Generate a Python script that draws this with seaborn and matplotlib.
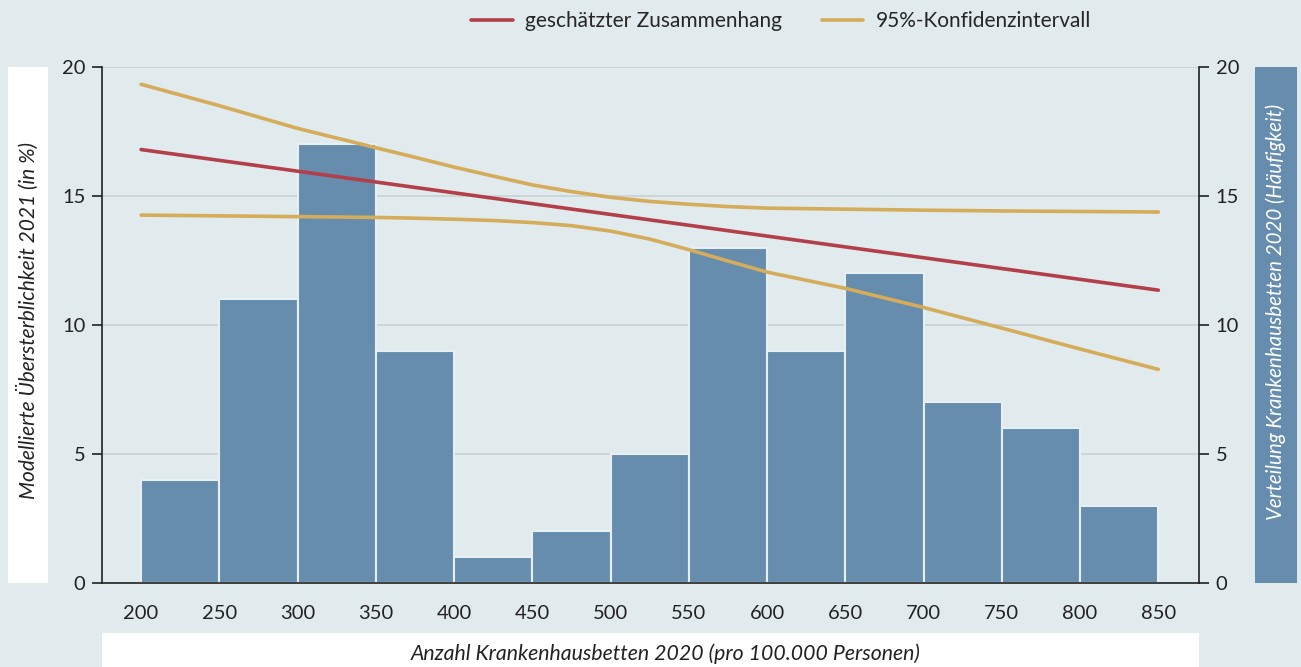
import numpy as np
import pandas as pd
import matplotlib
matplotlib.use("Agg")
import matplotlib.pyplot as plt
import seaborn as sns

# ---- data ----
bin_left = [200, 250, 300, 350, 400, 450, 500, 550, 600, 650, 700, 750, 800]
counts = [4, 11, 17, 9, 1, 2, 5, 13, 9, 12, 7, 6, 3]

fit_x = [200, 850]
fit_y = [16.8, 11.35]

ci_x = [200, 250, 300, 350, 375, 400, 425, 450, 475, 500, 525, 550, 575, 600,
        650, 700, 750, 800, 850]
ci_upper = [19.33, 18.5, 17.62, 16.87, 16.5, 16.12, 15.77, 15.43, 15.17, 14.95,
            14.79, 14.68, 14.59, 14.53, 14.49, 14.45, 14.42, 14.40, 14.38]
ci_lower = [14.26, 14.23, 14.20, 14.17, 14.14, 14.10, 14.05, 13.97, 13.85, 13.64,
            13.33, 12.92, 12.48, 12.05, 11.42, 10.68, 9.88, 9.07, 8.28]

bg = "#e1eaed"
bar_col = "#668dae"
red = "#b23f49"
gold = "#d4ac5a"

sns.set_theme(style="white")
plt.rcParams["font.family"] = ["Lato", "DejaVu Sans"]

fig = plt.figure(figsize=(13.01, 6.67), dpi=100, facecolor=bg)
ax = fig.add_axes([102 / 1301, 84 / 667, 1097 / 1301, 516 / 667])
ax.set_facecolor(bg)

hist_df = pd.DataFrame({"beds": bin_left, "n": counts})
edges = list(range(200, 851, 50))
sns.histplot(data=hist_df, x="beds", weights="n", bins=edges, ax=ax,
             color=bar_col, alpha=1, edgecolor="#e8eff2", linewidth=1.5)

ax.set_xlim(175, 876)
ax.set_ylim(0, 20)
ax.set_yticks([0, 5, 10, 15, 20])
ax.set_xticks(edges)
ax.yaxis.grid(True, color="#c8d2d5", linewidth=1.2)
ax.set_axisbelow(True)
ax.set_xlabel("")
ax.set_ylabel("")
for s in ["top", "right"]:
    ax.spines[s].set_visible(False)
for s in ["left", "bottom"]:
    ax.spines[s].set_color("#222222")
    ax.spines[s].set_linewidth(1.2)
ax.tick_params(axis="both", which="major", direction="out", length=7, width=1.2,
               color="#222222", labelsize=14.5, labelcolor="#222222", pad=5)
ax.tick_params(axis="x", pad=8, length=8)

ax2 = ax.twinx()
ax2.set_ylim(0, 20)
ax2.set_yticks([0, 5, 10, 15, 20])
for s in ["top", "left", "bottom"]:
    ax2.spines[s].set_visible(False)
ax2.spines["right"].set_color("#222222")
ax2.spines["right"].set_linewidth(1.2)
ax2.tick_params(axis="y", direction="out", length=7, width=1.2, color="#222222",
                labelsize=14.5, labelcolor="#222222", pad=5)

sns.lineplot(x=ci_x, y=ci_upper, ax=ax2, color=gold, linewidth=2.6,
             label="95%-Konfidenzintervall")
sns.lineplot(x=ci_x, y=ci_lower, ax=ax2, color=gold, linewidth=2.6)
sns.lineplot(x=fit_x, y=fit_y, ax=ax2, color=red, linewidth=2.6,
             label="geschätzter Zusammenhang")
ax2.set_ylabel("")
ax2.legend_.remove()

handles, labels = ax2.get_legend_handles_labels()
order = [labels.index("geschätzter Zusammenhang"), labels.index("95%-Konfidenzintervall")]
fig.legend([handles[i] for i in order], [labels[i] for i in order],
           loc="center", bbox_to_anchor=(781 / 1301, 1 - 21 / 667), ncol=2,
           frameon=False, fontsize=15, handlelength=2.0, columnspacing=1.9,
           handletextpad=0.6)

# label boxes
lbox = fig.add_axes([8 / 1301, 84 / 667, 40 / 1301, 516 / 667])
lbox.set_facecolor("white")
lbox.set_xticks([]); lbox.set_yticks([])
for s in lbox.spines.values():
    s.set_visible(False)
lbox.text(0.5, 0.508, "Modellierte Übersterblichkeit 2021 (in %)", rotation=90,
          ha="center", va="center", style="italic", fontsize=15,
          color="#222222", transform=lbox.transAxes)

rbox = fig.add_axes([1255 / 1301, 84 / 667, 42 / 1301, 516 / 667])
rbox.set_facecolor(bar_col)
rbox.set_xticks([]); rbox.set_yticks([])
for s in rbox.spines.values():
    s.set_visible(False)
rbox.text(0.5, 0.525, "Verteilung Krankenhausbetten 2020 (Häufigkeit)", rotation=90,
          ha="center", va="center", style="italic", fontsize=14.8,
          color="white", transform=rbox.transAxes)

bbox = fig.add_axes([102 / 1301, 0, 1097 / 1301, 34 / 667])
bbox.set_facecolor("white")
bbox.set_xticks([]); bbox.set_yticks([])
for s in bbox.spines.values():
    s.set_visible(False)
bbox.text(0.514, 0.38, "Anzahl Krankenhausbetten 2020 (pro 100.000 Personen)",
          ha="center", va="center", style="italic", fontsize=15.3,
          color="#222222", transform=bbox.transAxes)

fig.savefig("out.png", dpi=100, facecolor=bg)
